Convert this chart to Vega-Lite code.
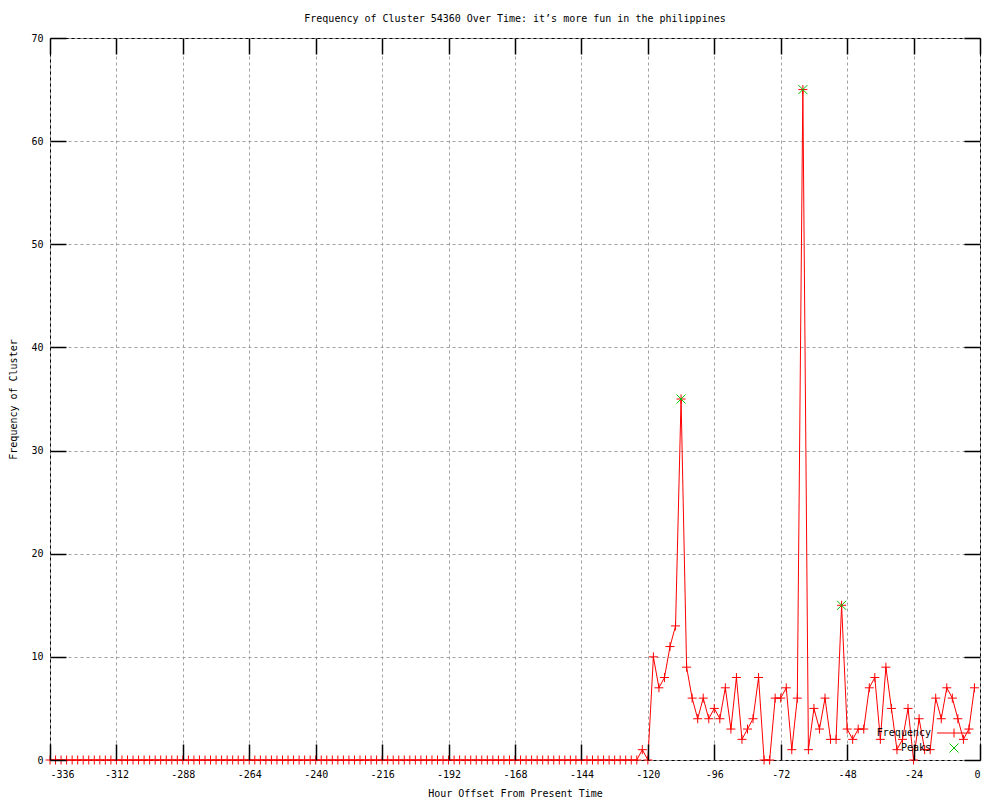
{
  "$schema": "https://vega.github.io/schema/vega-lite/v6.json",
  "width": 930,
  "height": 722,
  "autosize": "none",
  "padding": {"left": 50, "top": 38, "right": 20, "bottom": 40},
  "background": "white",
  "title": {"text": "Frequency of Cluster 54360 Over Time: it’s more fun in the philippines", "font": "DejaVu Sans Mono", "fontSize": 10, "fontWeight": "normal", "color": "black", "offset": 9, "anchor": "middle"},
  "config": {"view": {"stroke": "black", "strokeWidth": 1}, "font": "DejaVu Sans Mono"},
  "datasets": {
    "freq": [
      {"h":-336,"f":0},{"h":-334,"f":0},{"h":-332,"f":0},{"h":-330,"f":0},{"h":-328,"f":0},{"h":-326,"f":0},{"h":-324,"f":0},{"h":-322,"f":0},{"h":-320,"f":0},{"h":-318,"f":0},
      {"h":-316,"f":0},{"h":-314,"f":0},{"h":-312,"f":0},{"h":-310,"f":0},{"h":-308,"f":0},{"h":-306,"f":0},{"h":-304,"f":0},{"h":-302,"f":0},{"h":-300,"f":0},{"h":-298,"f":0},
      {"h":-296,"f":0},{"h":-294,"f":0},{"h":-292,"f":0},{"h":-290,"f":0},{"h":-288,"f":0},{"h":-286,"f":0},{"h":-284,"f":0},{"h":-282,"f":0},{"h":-280,"f":0},{"h":-278,"f":0},
      {"h":-276,"f":0},{"h":-274,"f":0},{"h":-272,"f":0},{"h":-270,"f":0},{"h":-268,"f":0},{"h":-266,"f":0},{"h":-264,"f":0},{"h":-262,"f":0},{"h":-260,"f":0},{"h":-258,"f":0},
      {"h":-256,"f":0},{"h":-254,"f":0},{"h":-252,"f":0},{"h":-250,"f":0},{"h":-248,"f":0},{"h":-246,"f":0},{"h":-244,"f":0},{"h":-242,"f":0},{"h":-240,"f":0},{"h":-238,"f":0},
      {"h":-236,"f":0},{"h":-234,"f":0},{"h":-232,"f":0},{"h":-230,"f":0},{"h":-228,"f":0},{"h":-226,"f":0},{"h":-224,"f":0},{"h":-222,"f":0},{"h":-220,"f":0},{"h":-218,"f":0},
      {"h":-216,"f":0},{"h":-214,"f":0},{"h":-212,"f":0},{"h":-210,"f":0},{"h":-208,"f":0},{"h":-206,"f":0},{"h":-204,"f":0},{"h":-202,"f":0},{"h":-200,"f":0},{"h":-198,"f":0},
      {"h":-196,"f":0},{"h":-194,"f":0},{"h":-192,"f":0},{"h":-190,"f":0},{"h":-188,"f":0},{"h":-186,"f":0},{"h":-184,"f":0},{"h":-182,"f":0},{"h":-180,"f":0},{"h":-178,"f":0},
      {"h":-176,"f":0},{"h":-174,"f":0},{"h":-172,"f":0},{"h":-170,"f":0},{"h":-168,"f":0},{"h":-166,"f":0},{"h":-164,"f":0},{"h":-162,"f":0},{"h":-160,"f":0},{"h":-158,"f":0},
      {"h":-156,"f":0},{"h":-154,"f":0},{"h":-152,"f":0},{"h":-150,"f":0},{"h":-148,"f":0},{"h":-146,"f":0},{"h":-144,"f":0},{"h":-142,"f":0},{"h":-140,"f":0},{"h":-138,"f":0},
      {"h":-136,"f":0},{"h":-134,"f":0},{"h":-132,"f":0},{"h":-130,"f":0},{"h":-128,"f":0},{"h":-126,"f":0},{"h":-124,"f":0},
      {"h":-122,"f":1},{"h":-120,"f":0},{"h":-118,"f":10},{"h":-116,"f":7},{"h":-114,"f":8},{"h":-112,"f":11},{"h":-110,"f":13},{"h":-108,"f":35},
      {"h":-106,"f":9},{"h":-104,"f":6},{"h":-102,"f":4},{"h":-100,"f":6},{"h":-98,"f":4},{"h":-96,"f":5},{"h":-94,"f":4},{"h":-92,"f":7},{"h":-90,"f":3},{"h":-88,"f":8},
      {"h":-86,"f":2},{"h":-84,"f":3},{"h":-82,"f":4},{"h":-80,"f":8},{"h":-78,"f":0},{"h":-76,"f":0},{"h":-74,"f":6},{"h":-72,"f":6},{"h":-70,"f":7},{"h":-68,"f":1},
      {"h":-66,"f":6},{"h":-64,"f":65},{"h":-62,"f":1},{"h":-60,"f":5},{"h":-58,"f":3},{"h":-56,"f":6},{"h":-54,"f":2},{"h":-52,"f":2},{"h":-50,"f":15},{"h":-48,"f":3},
      {"h":-46,"f":2},{"h":-44,"f":3},{"h":-42,"f":3},{"h":-40,"f":7},{"h":-38,"f":8},{"h":-36,"f":2},{"h":-34,"f":9},{"h":-32,"f":5},{"h":-30,"f":1},{"h":-28,"f":2},
      {"h":-26,"f":5},{"h":-24,"f":0},{"h":-22,"f":4},{"h":-20,"f":1},{"h":-18,"f":1},{"h":-16,"f":6},{"h":-14,"f":4},{"h":-12,"f":7},{"h":-10,"f":6},{"h":-8,"f":4},
      {"h":-6,"f":2},{"h":-4,"f":3},{"h":-2,"f":7}
    ],
    "peaks": [
      {"h":-108,"f":35,"series":"Peaks"},
      {"h":-64,"f":65,"series":"Peaks"},
      {"h":-50,"f":15,"series":"Peaks"}
    ]
  },
  "layer": [
    {
      "data": {"name": "freq"},
      "mark": {"type": "line", "color": "#ff0000", "strokeWidth": 1},
      "encoding": {
        "x": {"field": "h", "type": "quantitative",
          "scale": {"domain": [-336, 0], "nice": false, "zero": false},
          "axis": {"orient": "bottom", "values": [-336,-312,-288,-264,-240,-216,-192,-168,-144,-120,-96,-72,-48,-24,0],
            "labelExpr": "datum.value + ''", "domain": false, "grid": false, "zindex": 1,
            "tickSize": -16, "tickColor": "#000000", "tickWidth": 1.5, "tickOpacity": 1,
            "labelPadding": 25, "labelFont": "DejaVu Sans Mono", "labelFontSize": 10, "labelColor": "black",
            "title": "Hour Offset From Present Time", "titleFont": "DejaVu Sans Mono", "titleFontSize": 10, "titleFontWeight": "normal", "titleColor": "black", "titlePadding": 9}},
        "y": {"field": "f", "type": "quantitative",
          "scale": {"domain": [0, 70], "nice": false, "zero": true},
          "axis": {"orient": "left", "values": [0,10,20,30,40,50,60,70],
            "domain": false, "grid": false, "zindex": 1,
            "tickSize": -16, "tickColor": "#000000", "tickWidth": 1.5, "tickOpacity": 1,
            "labelPadding": 23, "labelFont": "DejaVu Sans Mono", "labelFontSize": 10, "labelColor": "black",
            "title": "Frequency of Cluster", "titleFont": "DejaVu Sans Mono", "titleFontSize": 10, "titleFontWeight": "normal", "titleColor": "black", "titlePadding": 12}}
      }
    },
    {
      "data": {"name": "freq"},
      "mark": {"type": "point", "shape": "M-1,0L1,0M0,-1L0,1", "size": 81, "filled": false, "stroke": "#ff0000", "strokeWidth": 1, "opacity": 1},
      "encoding": {
        "x": {"field": "h", "type": "quantitative",
          "axis": {"orient": "top", "values": [-336,-312,-288,-264,-240,-216,-192,-168,-144,-120,-96,-72,-48,-24,0],
            "labels": false, "domain": false, "grid": false, "zindex": 1, "tickSize": -16, "tickColor": "#000000", "tickWidth": 1.5, "tickOpacity": 1, "title": null}},
        "y": {"field": "f", "type": "quantitative",
          "axis": {"orient": "right", "values": [0,10,20,30,40,50,60,70],
            "labels": false, "domain": false, "grid": false, "zindex": 1, "tickSize": -16, "tickColor": "#000000", "tickWidth": 1.5, "tickOpacity": 1, "title": null}}
      }
    },
    {
      "data": {"name": "peaks"},
      "mark": {"type": "point", "filled": false, "size": 81, "strokeWidth": 1, "opacity": 1},
      "encoding": {
        "x": {"field": "h", "type": "quantitative",
          "axis": {"orient": "bottom", "values": [-336,-312,-288,-264,-240,-216,-192,-168,-144,-120,-96,-72,-48,-24,0],
            "labels": false, "domain": false, "ticks": false, "title": null, "zindex": 0,
            "grid": true, "gridColor": "#a0a0a0", "gridDash": [3, 3], "gridWidth": 1}},
        "y": {"field": "f", "type": "quantitative",
          "axis": {"orient": "left", "values": [0,10,20,30,40,50,60,70],
            "labels": false, "domain": false, "ticks": false, "title": null, "zindex": 0,
            "grid": true, "gridColor": "#a0a0a0", "gridDash": [3, 3], "gridWidth": 1}},
        "color": {"field": "series", "type": "nominal",
          "scale": {"domain": ["Frequency", "Peaks"], "range": ["#ff0000", "#00c000"]},
          "legend": {"title": null, "orient": "none", "legendX": 899, "legendY": 690, "labelAlign": "right", "labelOffset": -28,
            "labelFont": "DejaVu Sans Mono", "labelFontSize": 10, "labelColor": "black", "symbolSize": 81, "symbolStrokeWidth": 1, "rowPadding": 1, "padding": 0}},
        "shape": {"field": "series", "type": "nominal",
          "scale": {"domain": ["Frequency", "Peaks"], "range": ["M-3.78,0L3.78,0M0,-1L0,1", "M-1,-1L1,1M-1,1L1,-1"]},
          "legend": {"title": null, "orient": "none", "legendX": 899, "legendY": 690, "labelAlign": "right", "labelOffset": -28,
            "labelFont": "DejaVu Sans Mono", "labelFontSize": 10, "labelColor": "black", "symbolSize": 81, "symbolStrokeWidth": 1, "rowPadding": 1, "padding": 0}}
      }
    }
  ],
  "resolve": {"axis": {"x": "independent", "y": "independent"}}
}
